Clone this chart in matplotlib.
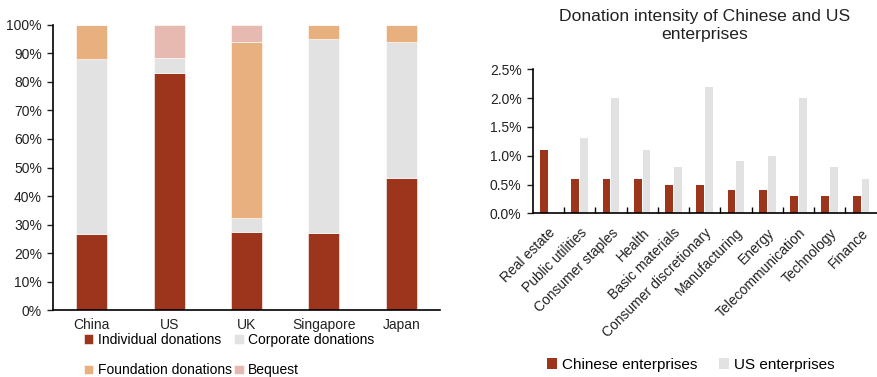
import matplotlib
matplotlib.use("Agg")
import matplotlib.pyplot as plt
import numpy as np
from matplotlib.ticker import PercentFormatter, FuncFormatter

plt.rcParams["font.family"] = ["Liberation Sans", "DejaVu Sans"]
plt.rcParams["font.size"] = 10

# left chart: composition of donations by source (%)
countries = ["China", "US", "UK", "Singapore", "Japan"]
individual = [26.5, 83.0, 27.3, 27.0, 46.3]
corporate = [61.5, 5.5, 5.0, 68.0, 47.7]
foundation = [12.0, 0.0, 61.7, 5.0, 6.0]
bequest = [0.0, 11.5, 6.0, 0.0, 0.0]

# right chart: donation intensity (%)
sectors = ["Real estate", "Public utilities", "Consumer staples", "Health",
           "Basic materials", "Consumer discretionary", "Manufacturing", "Energy",
           "Telecommunication", "Technology", "Finance"]
chinese = [1.1, 0.6, 0.6, 0.6, 0.5, 0.5, 0.4, 0.4, 0.3, 0.3, 0.3]
us = [0.0, 1.3, 2.0, 1.1, 0.8, 2.2, 0.9, 1.0, 2.0, 0.8, 0.6]

RED = "#9C351B"
GREY = "#E2E2E2"
ORANGE = "#E8B07E"
PINK = "#E7BAB1"
TXT = "#222222"

fig = plt.figure(figsize=(8.78, 3.77), dpi=100)

# ---- left: stacked bars
ax1 = fig.add_axes([0.0604, 0.1777, 0.4408, 0.756])
x = np.arange(len(countries))
w = 0.4
bottom = np.zeros(len(countries))
handles = []
for vals, col, lab in [(individual, RED, "Individual donations"),
                       (corporate, GREY, "Corporate donations"),
                       (foundation, ORANGE, "Foundation donations"),
                       (bequest, PINK, "Bequest")]:
    h = ax1.bar(x, vals, w, bottom=bottom, color=col, label=lab,
                edgecolor="white", linewidth=0.4)
    handles.append(h)
    bottom += np.array(vals)
ax1.set_xlim(-0.5, len(countries) - 0.5)
ax1.set_ylim(0, 100)
ax1.set_yticks(np.arange(0, 101, 10))
ax1.yaxis.set_major_formatter(PercentFormatter(decimals=0))
ax1.set_xticks(x)
ax1.set_xticklabels(countries)
ax1.tick_params(axis="x", length=0, pad=6, colors=TXT)
ax1.tick_params(axis="y", length=4, width=1, colors=TXT, pad=4)
for s in ["top", "right"]:
    ax1.spines[s].set_visible(False)
for s in ["left", "bottom"]:
    ax1.spines[s].set_linewidth(1.2)
# row-major order: individual, corporate / foundation, bequest
order = [0, 2, 1, 3]
ax1.legend([handles[i] for i in order],
           [h.get_label() for h in [handles[i] for i in order]],
           loc="upper left", bbox_to_anchor=(0.065, -0.06), ncol=2, frameon=False,
           handlelength=0.7, handleheight=0.7, handletextpad=0.3, columnspacing=0.2,
           labelspacing=1.2, borderaxespad=0, fontsize=10)

# ---- right: grouped bars
ax2 = fig.add_axes([0.6067, 0.4342, 0.3918, 0.382])
xs = np.arange(len(sectors))
bw = 0.25
ax2.bar(xs - 0.14, chinese, bw, color=RED, label="Chinese enterprises")
ax2.bar(xs + 0.14, us, bw, color=GREY, label="US enterprises")
ax2.set_xlim(-0.5, len(sectors) - 0.5)
ax2.set_ylim(0, 2.5)
ax2.set_yticks(np.arange(0, 2.51, 0.5))
ax2.yaxis.set_major_formatter(FuncFormatter(lambda v, _: f"{v:.1f}%"))
ax2.set_xticks(xs)
ax2.set_xticklabels(sectors, rotation=45, ha="right", rotation_mode="anchor")
ax2.tick_params(axis="x", length=0, pad=9, colors=TXT)
ax2.set_xticks(np.arange(0.5, len(sectors) - 0.5, 1), minor=True)
ax2.tick_params(axis="x", which="minor", direction="in", length=4, width=1)
ax2.tick_params(axis="y", length=4, width=1, colors=TXT, pad=4)
for s in ["top", "right"]:
    ax2.spines[s].set_visible(False)
for s in ["left", "bottom"]:
    ax2.spines[s].set_linewidth(1.2)
ax2.set_title("Donation intensity of Chinese and US\nenterprises", fontsize=12.6,
              color=TXT, pad=22)
fig.legend(handles=ax2.get_legend_handles_labels()[0], loc="center left",
           bbox_to_anchor=(0.607, 0.033), ncol=2, frameon=False,
           handlelength=0.7, handleheight=0.7, handletextpad=0.3, columnspacing=1.4,
           fontsize=11)

fig.savefig("out.png", dpi=100)
